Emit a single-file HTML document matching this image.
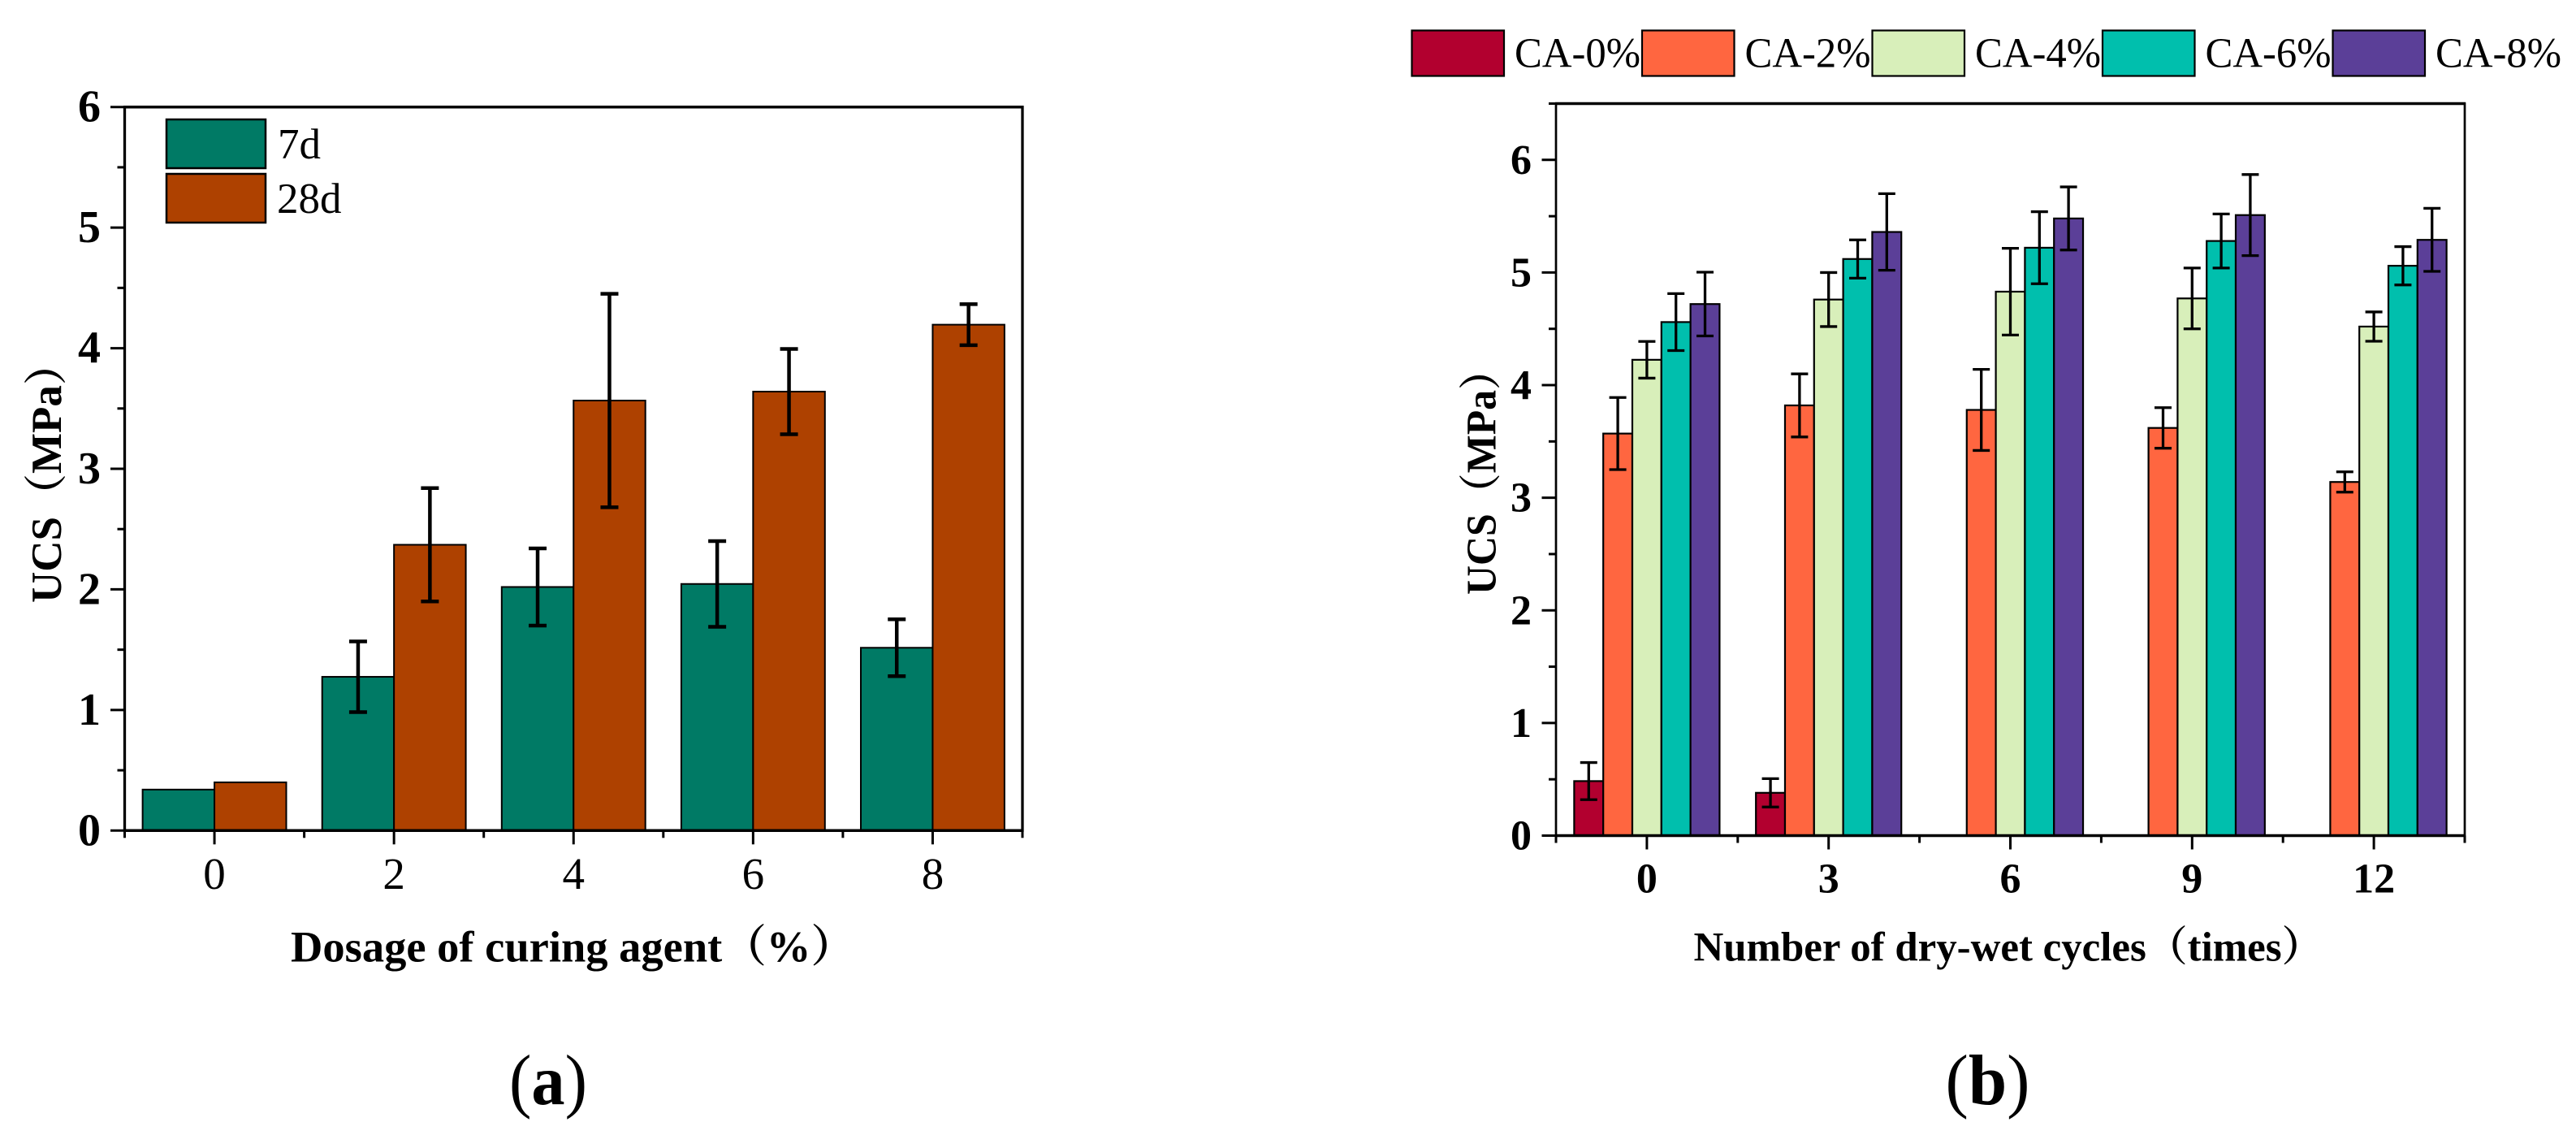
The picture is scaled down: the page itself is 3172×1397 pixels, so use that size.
<!DOCTYPE html>
<html lang="en">
<head>
<meta charset="utf-8">
<title>UCS charts</title>
<style>
html,body{margin:0;padding:0;background:#fff;}
svg{display:block;font-family:"Liberation Serif","Noto Serif CJK SC",serif;}
text{fill:#000;}
</style>
</head>
<body>
<svg id="figure" xmlns="http://www.w3.org/2000/svg" width="3172" height="1397" viewBox="0 0 3172 1397">
  <rect x="0" y="0" width="3172" height="1397" fill="#ffffff"/>
  <g id="chart-a"></g>
  <g id="chart-b"></g>

  <rect x="205" y="147" width="122" height="60" fill="#007A65" stroke="#000" stroke-width="2.5"/>
  <text x="342" y="195" font-size="53">7d</text>
  <rect x="205" y="214" width="122" height="60" fill="#AE4100" stroke="#000" stroke-width="2.5"/>
  <text x="341" y="262" font-size="53">28d</text>
  <text transform="translate(75,742) rotate(-90)" font-size="53" font-weight="bold">UCS（MPa）</text>
  <text x="358" y="1183.5" font-size="54.5" font-weight="bold">Dosage of curing agent（%）</text>
  <text x="675" y="1359" text-anchor="middle" font-size="88" textLength="96" lengthAdjust="spacingAndGlyphs">(<tspan font-weight="bold">a</tspan>)</text>

  <rect x="1738.5" y="37.5" width="113.5" height="56" fill="#B2002F" stroke="#000" stroke-width="2.2"/>
  <text x="1865" y="82.7" font-size="52" textLength="155" lengthAdjust="spacingAndGlyphs">CA-0%</text>
  <rect x="2022" y="37.5" width="113.5" height="56" fill="#FF6640" stroke="#000" stroke-width="2.2"/>
  <text x="2148.5" y="82.7" font-size="52" textLength="155" lengthAdjust="spacingAndGlyphs">CA-2%</text>
  <rect x="2305.5" y="37.5" width="113.5" height="56" fill="#D8EFBA" stroke="#000" stroke-width="2.2"/>
  <text x="2432" y="82.7" font-size="52" textLength="155" lengthAdjust="spacingAndGlyphs">CA-4%</text>
  <rect x="2589" y="37.5" width="113.5" height="56" fill="#00BFAD" stroke="#000" stroke-width="2.2"/>
  <text x="2715.5" y="82.7" font-size="52" textLength="155" lengthAdjust="spacingAndGlyphs">CA-6%</text>
  <rect x="2872.5" y="37.5" width="113.5" height="56" fill="#5B3F98" stroke="#000" stroke-width="2.2"/>
  <text x="2999" y="82.7" font-size="52" textLength="155" lengthAdjust="spacingAndGlyphs">CA-8%</text>
  <text transform="translate(1841.5,732) rotate(-90)" font-size="52" font-weight="bold" textLength="302" lengthAdjust="spacingAndGlyphs">UCS（MPa）</text>
  <text x="2085.5" y="1182.5" font-size="50.9" font-weight="bold">Number of dry-wet cycles（times）</text>
  <text x="2447.5" y="1359" text-anchor="middle" font-size="88" textLength="104" lengthAdjust="spacingAndGlyphs">(<tspan font-weight="bold">b</tspan>)</text>
</svg>
<script>
// ---- Chart A data ----
const aCategories = ['0', '2', '4', '6', '8'];
const aValues7d = [0.34, 1.275, 2.02, 2.045, 1.516];
const aValues28d = [0.40, 2.37, 3.566, 3.64, 4.195];
const aErrors7d = [null, 0.293, 0.32, 0.355, 0.236];
const aErrors28d = [null, 0.47, 0.885, 0.354, 0.17];
const aYTicks = [0, 1, 2, 3, 4, 5, 6];

// ---- Chart B data ----
const bCategories = ['0', '3', '6', '9', '12'];
const bSeriesNames = ['CA-0', 'CA-2', 'CA-4', 'CA-6', 'CA-8'];
const bValuesCA0 = [0.484, 0.38, null, null, null];
const bValuesCA2 = [3.57, 3.82, 3.78, 3.62, 3.14];
const bValuesCA4 = [4.225, 4.76, 4.83, 4.77, 4.52];
const bValuesCA6 = [4.56, 5.12, 5.22, 5.28, 5.06];
const bValuesCA8 = [4.72, 5.36, 5.48, 5.51, 5.29];
const bErrorsCA0 = [0.165, 0.126, null, null, null];
const bErrorsCA2 = [0.32, 0.28, 0.36, 0.18, 0.09];
const bErrorsCA4 = [0.163, 0.24, 0.385, 0.27, 0.13];
const bErrorsCA6 = [0.253, 0.17, 0.32, 0.24, 0.17];
const bErrorsCA8 = [0.283, 0.34, 0.28, 0.36, 0.28];
const bYTicks = [0, 1, 2, 3, 4, 5, 6];

const NS = 'http://www.w3.org/2000/svg';

function make(parent, tag, props) {
  const el = document.createElementNS(NS, tag);
  for (const k in props) el.setAttribute(k, props[k]);
  parent.appendChild(el);
  return el;
}

// ---- Chart A scales ----
const aPlot = { left: 153.5, right: 1259, top: 131.7, bottom: 1022.3 };
const aYMax = 6;
function aX(pos) { return aPlot.left + (pos + 0.5) / aCategories.length * (aPlot.right - aPlot.left); }
function aY(v) { return aPlot.bottom - v / aYMax * (aPlot.bottom - aPlot.top); }
const aBarOffset = 0.4;

// ---- Chart B scales ----
const bPlot = { left: 1916, right: 3035, top: 127.5, bottom: 1028.5 };
const bYMax = 6.5;
function bX(pos) { return bPlot.left + (pos + 0.5) / bCategories.length * (bPlot.right - bPlot.left); }
function bY(v) { return bPlot.bottom - v / bYMax * (bPlot.bottom - bPlot.top); }
const bBarWidth = 0.16;

function drawBar(group, x0, x1, yTop, yBase, fill, sw) {
  return make(group, 'rect', { x: x0, y: yTop, width: x1 - x0, height: yBase - yTop, fill: fill, stroke: '#000', 'stroke-width': sw });
}

function drawError(group, cx, yHi, yLo, capHalf, sw, name) {
  const stem = make(group, 'line', { x1: cx, x2: cx, y1: yHi, y2: yLo, stroke: '#000', 'stroke-width': sw });
  
  
  const capTop = make(group, 'line', { x1: cx - capHalf, x2: cx + capHalf, y1: yHi, y2: yHi, stroke: '#000', 'stroke-width': sw });
  
  
  const capBottom = make(group, 'line', { x1: cx - capHalf, x2: cx + capHalf, y1: yLo, y2: yLo, stroke: '#000', 'stroke-width': sw });
  
  
}

function drawAxes(group, plot, xFn, yFn, cats, yTicks, yLimit, opts, id) {
  const frame = make(group, 'rect', { x: plot.left, y: plot.top, width: plot.right - plot.left, height: plot.bottom - plot.top, fill: 'none', stroke: '#000', 'stroke-width': opts.frameWidth });
  
  

  const topLine = make(group, 'line', { x1: plot.left - 1, x2: plot.right + 1, y1: plot.top, y2: plot.top, stroke: '#000', 'stroke-width': 3.5 });
  
  

  const base = make(group, 'line', { x1: plot.left - 1, x2: plot.right + 1, y1: plot.bottom, y2: plot.bottom, stroke: '#000', 'stroke-width': 3.5 });
  
  

  yTicks.forEach(function (t) {
    const y = yFn(t);
    const tick = make(group, 'line', { x1: plot.left - 17.5, x2: plot.left, y1: y, y2: y, stroke: '#000', 'stroke-width': 3 });
    
    
    const label = make(group, 'text', { x: opts.yLabelX, y: y + opts.yLabelDy, 'text-anchor': 'end', 'font-size': opts.yLabelSize, 'font-weight': 'bold' });
    label.textContent = String(t);
    
    
    if (t + 0.5 <= yLimit) {
      const my = yFn(t + 0.5);
      const minor = make(group, 'line', { x1: plot.left - 9, x2: plot.left, y1: my, y2: my, stroke: '#000', 'stroke-width': 3 });
      
      
    }
  });

  cats.forEach(function (c, i) {
    const x = xFn(i);
    const tick = make(group, 'line', { x1: x, x2: x, y1: plot.bottom, y2: plot.bottom + 17, stroke: '#000', 'stroke-width': 3 });
    
    
    const label = make(group, 'text', { x: x, y: opts.xLabelY, 'text-anchor': 'middle', 'font-size': opts.xLabelSize, 'font-weight': opts.xLabelWeight });
    label.textContent = c;
    
    
  });

  for (let i = 0; i <= cats.length; i++) {
    const mx = xFn(i - 0.5);
    const minor = make(group, 'line', { x1: mx, x2: mx, y1: plot.bottom, y2: plot.bottom + 9, stroke: '#000', 'stroke-width': 3 });
    
    
  }
}

// ---- Render chart A ----
const gA = document.getElementById('chart-a');
aCategories.forEach(function (c, i) {
  const b7 = drawBar(gA, aX(i - aBarOffset), aX(i), aY(aValues7d[i]), aY(0), '#007A65', 2);
  
  
  const b28 = drawBar(gA, aX(i), aX(i + aBarOffset), aY(aValues28d[i]), aY(0), '#AE4100', 2);
  
  
});
aCategories.forEach(function (c, i) {
  if (aErrors7d[i] !== null) {
    drawError(gA, aX(i - aBarOffset / 2), aY(aValues7d[i] + aErrors7d[i]), aY(aValues7d[i] - aErrors7d[i]), 11, 4.5, 'error-bar-7d-' + c);
  }
  if (aErrors28d[i] !== null) {
    drawError(gA, aX(i + aBarOffset / 2), aY(aValues28d[i] + aErrors28d[i]), aY(aValues28d[i] - aErrors28d[i]), 11, 4.5, 'error-bar-28d-' + c);
  }
});
drawAxes(gA, aPlot, aX, aY, aCategories, aYTicks, aYMax,
  { frameWidth: 3.3, yLabelX: 124, yLabelDy: 18, yLabelSize: 56, xLabelY: 1094, xLabelSize: 55, xLabelWeight: 'normal' }, 'a');

// ---- Render chart B ----
const gB = document.getElementById('chart-b');
const bSeriesValues = [bValuesCA0, bValuesCA2, bValuesCA4, bValuesCA6, bValuesCA8];
const bSeriesErrors = [bErrorsCA0, bErrorsCA2, bErrorsCA4, bErrorsCA6, bErrorsCA8];
const bSeriesFills = ['#B2002F', '#FF6640', '#D8EFBA', '#00BFAD', '#5B3F98'];
bSeriesValues.forEach(function (vals, s) {
  vals.forEach(function (v, i) {
    if (v === null) return;
    const left = i + (s - 2.5) * bBarWidth;
    const bar = drawBar(gB, bX(left), bX(left + bBarWidth), bY(v), bY(0), bSeriesFills[s], 2.2);
    
    
  });
});
bSeriesValues.forEach(function (vals, s) {
  vals.forEach(function (v, i) {
    if (v === null) return;
    const cx = bX(i + (s - 2) * bBarWidth);
    const e = bSeriesErrors[s][i];
    drawError(gB, cx, bY(v + e), bY(v - e), 10.5, 3.3, 'error-bar-' + bSeriesNames[s] + '-' + bCategories[i]);
  });
});
drawAxes(gB, bPlot, bX, bY, bCategories, bYTicks, bYMax,
  { frameWidth: 2.7, yLabelX: 1886, yLabelDy: 17, yLabelSize: 52, xLabelY: 1098.5, xLabelSize: 52, xLabelWeight: 'bold' }, 'b');
</script>
</body>
</html>
